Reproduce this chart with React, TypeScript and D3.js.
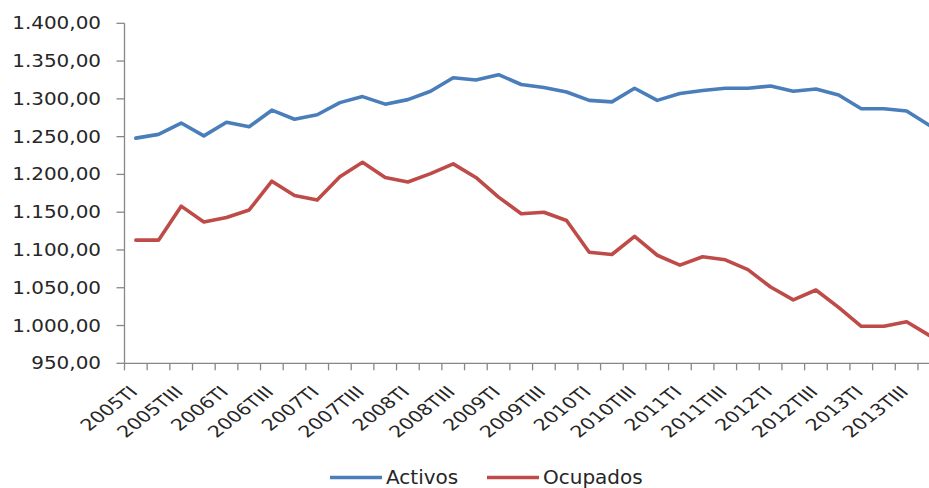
import React from "react";
import * as d3 from "d3";

const quarters = ["TI", "TII", "TIII", "TIV"];
const years = [2005, 2006, 2007, 2008, 2009, 2010, 2011, 2012, 2013];
const categories: string[] = years.flatMap((y) => quarters.map((q) => `${y}${q}`));

const activos = [
  1248, 1253, 1268, 1251, 1269, 1263, 1285, 1273, 1279, 1295, 1303, 1293,
  1299, 1310, 1328, 1325, 1332, 1319, 1315, 1309, 1298, 1296, 1314, 1298,
  1307, 1311, 1314, 1314, 1317, 1310, 1313, 1305, 1287, 1287, 1284, 1265,
];
const ocupados = [
  1113, 1113, 1158, 1137, 1143, 1153, 1191, 1172, 1166, 1197, 1216, 1196,
  1190, 1201, 1214, 1196, 1170, 1148, 1150, 1139, 1097, 1094, 1118, 1093,
  1080, 1091, 1087, 1074, 1051, 1034, 1047, 1024, 999, 999, 1005, 987,
];
const yTicks = [950, 1000, 1050, 1100, 1150, 1200, 1250, 1300, 1350, 1400];
const seriesNames = ["Activos", "Ocupados"];
const colors = ["#4A7EBB", "#BE4B48"];

const W = 929;
const H = 488;
const FONT = "'DejaVu Sans', Verdana, sans-serif";

const fmt = (v: number) =>
  v.toLocaleString("de-DE", { minimumFractionDigits: 2, maximumFractionDigits: 2 });

export default function App() {
  const left = 124.5;
  const step = 22.67;
  const x = d3
    .scaleBand<string>()
    .domain(categories)
    .range([left, left + step * categories.length]);
  const y = d3.scaleLinear().domain([950, 1400]).range([363.3, 23.3]);
  const cx = (c: string) => (x(c) as number) + x.bandwidth() / 2;

  const line = d3
    .line<number>()
    .x((_, i) => cx(categories[i]))
    .y((d) => y(d));

  const series = [activos, ocupados];
  const axisColor = "#878787";
  const tickLabels = categories.filter((_, i) => i % 2 === 0);

  return (
    <svg
      width={W}
      height={H}
      style={{ position: "absolute", left: 0, top: 0, background: "#fff" }}
    >
      <rect x={0} y={0} width={W} height={H} fill="#fff" />
      {/* y axis */}
      <line x1={left} x2={left} y1={y(1400)} y2={y(950)} stroke={axisColor} strokeWidth={1.3} />
      {yTicks.map((t) => (
        <g key={t}>
          <line x1={left - 8} x2={left} y1={y(t)} y2={y(t)} stroke={axisColor} strokeWidth={1.3} />
          <text
            transform={`translate(${101},${y(t) + 6}) scale(1.14,1)`}
            textAnchor="end"
            fontFamily={FONT}
            fontSize={17.5}
            fill="#262626"
          >
            {fmt(t)}
          </text>
        </g>
      ))}
      {/* x axis */}
      <line x1={left} x2={W + 20} y1={y(950)} y2={y(950)} stroke={axisColor} strokeWidth={1.3} />
      {categories.map((c, i) => (
        <line
          key={c}
          x1={left + i * step}
          x2={left + i * step}
          y1={y(950)}
          y2={y(950) + 7}
          stroke={axisColor}
          strokeWidth={1.3}
        />
      ))}
      {tickLabels.map((c) => (
        <g key={c} transform={`translate(${cx(c) + 3},${y(950) + 29.5}) scale(1.28,1)`}>
          <text
            transform="rotate(-45)"
            textAnchor="end"
            fontFamily={FONT}
            fontSize={16}
            fill="#262626"
          >
            {c}
          </text>
        </g>
      ))}
      {/* lines */}
      {series.map((s, k) => (
        <path
          key={k}
          d={line(s) as string}
          fill="none"
          stroke={colors[k]}
          strokeWidth={3.6}
          strokeLinejoin="round"
          strokeLinecap="round"
        />
      ))}
      {/* legend */}
      {seriesNames.map((n, k) => {
        const x0 = k === 0 ? 330 : 487;
        return (
          <g key={n}>
            <line x1={x0} x2={x0 + 52} y1={477.5} y2={477.5} stroke={colors[k]} strokeWidth={3.6} />
            <text x={x0 + 56} y={483.5} fontFamily={FONT} fontSize={20} fill="#262626">
              {n}
            </text>
          </g>
        );
      })}
    </svg>
  );
}
